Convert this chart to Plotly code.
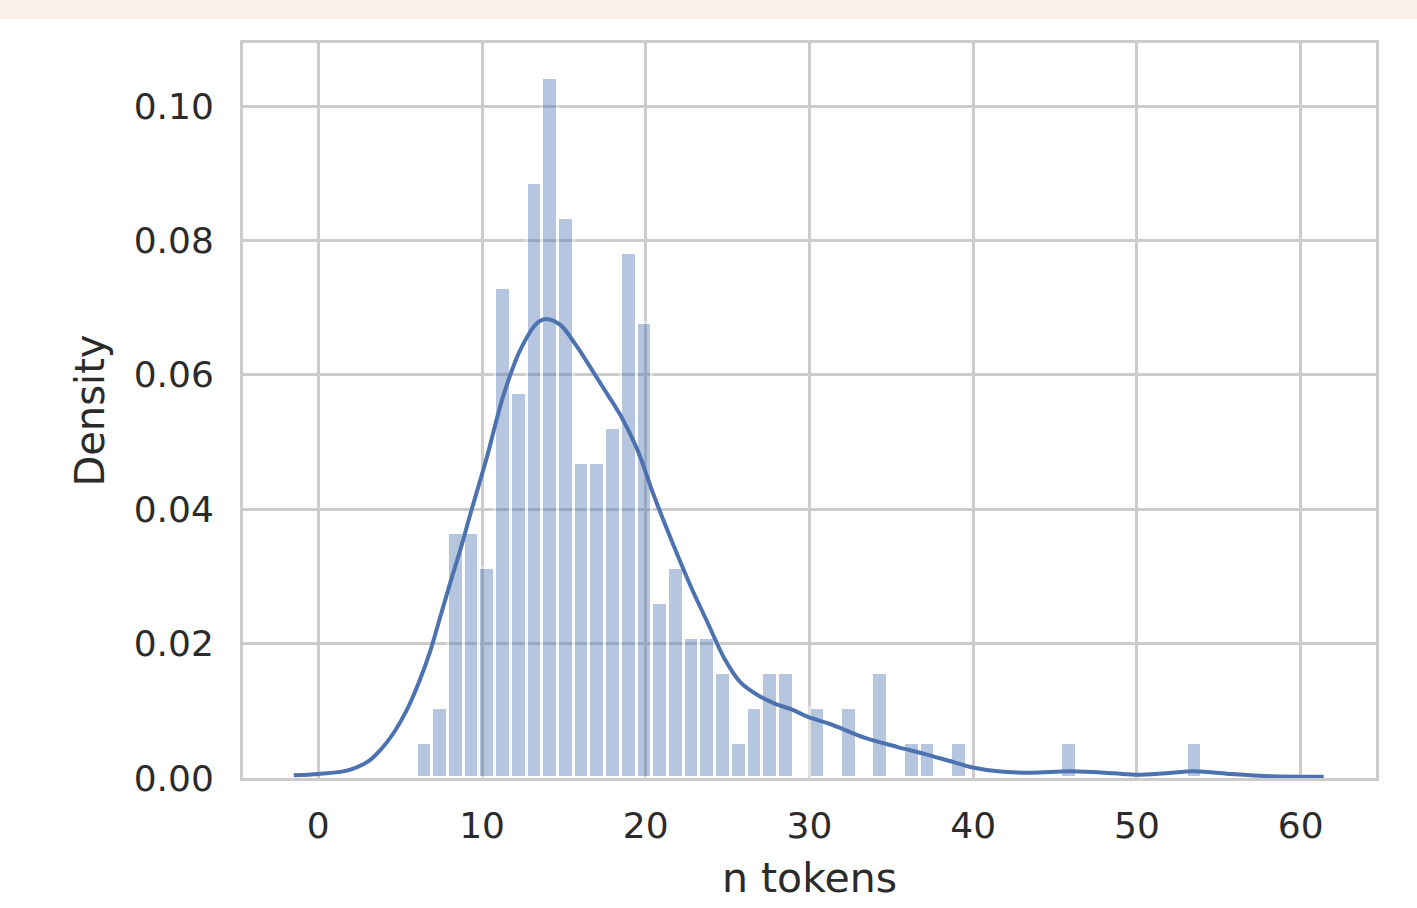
import math
import plotly.graph_objects as go

# ---- data ----
tokens = [6, 7, 8, 9, 10, 11, 12, 13, 14, 15, 16, 17, 18, 19, 20, 21, 22, 23, 24,
          25, 26, 27, 28, 29, 30, 32, 34, 36, 37, 39, 46, 54]
density = [0.0052, 0.0104, 0.0365, 0.0365, 0.0313, 0.0729, 0.0573, 0.0885, 0.1042,
           0.0833, 0.0469, 0.0469, 0.0521, 0.0781, 0.0677, 0.0260, 0.0313, 0.0208,
           0.0208, 0.0156, 0.0052, 0.0104, 0.0156, 0.0156, 0.0104, 0.0104, 0.0156,
           0.0052, 0.0052, 0.0052, 0.0052, 0.0052]

kde_x = [-1.5, 0.0, 1.75, 3.0, 3.8, 4.6, 5.4, 6.2, 6.85, 7.45, 8.05, 8.7, 9.3,
         10.3, 11.3, 12.35, 13.4, 14.0, 14.8, 15.8, 16.8, 17.45, 18.5, 19.5, 20.5,
         21.7, 22.75, 23.8, 24.8, 25.8, 26.8, 27.85, 28.9, 29.9, 31.3, 33.35, 35.4,
         37.0, 38.45, 39.9, 41.5, 43.5, 46.0, 48.6, 50.0, 51.7, 53.5, 55.8, 57.8, 61.4]
kde_y = [0.0004, 0.0006, 0.0011, 0.0024, 0.0042, 0.0067, 0.0101, 0.0146, 0.0190,
         0.0240, 0.0290, 0.0342, 0.0394, 0.0478, 0.0569, 0.0638, 0.0678, 0.0683,
         0.0674, 0.0642, 0.0604, 0.0579, 0.0538, 0.0488, 0.0420, 0.0346, 0.0285,
         0.0230, 0.0178, 0.0142, 0.0124, 0.0111, 0.0102, 0.0091, 0.0080, 0.0060,
         0.0046, 0.0036, 0.0026, 0.0016, 0.0010, 0.0008, 0.0010, 0.0007, 0.0005,
         0.0007, 0.0010, 0.0006, 0.0003, 0.0002]

x_ticks = [0, 10, 20, 30, 40, 50, 60]
y_ticks = [0.00, 0.02, 0.04, 0.06, 0.08, 0.10]
x_title = "n tokens"
y_title = "Density"

# histogram binning (50 bins between data min and max)
hist_min, hist_max, n_bins = min(tokens), max(tokens), 50
bin_w = (hist_max - hist_min) / n_bins
bar_x = []
for t in tokens:
    i = min(int(math.floor((t - hist_min) / bin_w + 1e-9)), n_bins - 1)
    bar_x.append(hist_min + (i + 0.5) * bin_w)

BLUE = "#4c72b0"
GRID = "#cccccc"
TXT = "#2b2b2b"
FONT = "DejaVu Sans"

fig = go.Figure()
fig.add_trace(go.Bar(
    x=bar_x, y=density, width=bin_w,
    marker=dict(color=BLUE, opacity=0.4, line=dict(color="white", width=3)),
    hoverinfo="skip", showlegend=False,
))
fig.add_trace(go.Scatter(
    x=kde_x, y=kde_y, mode="lines",
    line=dict(color=BLUE, width=4, shape="spline", smoothing=0.9),
    showlegend=False,
))

fig.add_shape(type="rect", xref="paper", yref="paper",
              x0=-1, x1=2, y0=1.0 + (43 - 19) / 735, y1=1.2,
              fillcolor="#f8f1eb", line=dict(width=0), layer="below")

fig.update_layout(
    width=1417, height=908,
    margin=dict(l=243, r=41, t=43, b=130),
    paper_bgcolor="white", plot_bgcolor="white",
    font=dict(family=FONT, color=TXT, size=36),
    bargap=0,
    xaxis=dict(
        range=[-4.6, 64.6], tickvals=x_ticks, ticktext=[str(v) for v in x_ticks],
        showgrid=True, gridcolor=GRID, gridwidth=2.5, zeroline=False,
        showline=True, linecolor=GRID, linewidth=3, mirror=True,
        ticks="", ticklen=0, ticklabelstandoff=14,
        tickfont=dict(size=36, family=FONT, color=TXT),
        title=dict(text=x_title, font=dict(size=41, family=FONT, color=TXT), standoff=19),
    ),
    yaxis=dict(
        range=[0, 0.1094], tickvals=y_ticks, ticktext=[f"{v:.2f}" for v in y_ticks],
        showgrid=True, gridcolor=GRID, gridwidth=2.5, zeroline=False,
        showline=True, linecolor=GRID, linewidth=3, mirror=True,
        ticks="", ticklen=0, ticklabelstandoff=19,
        tickfont=dict(size=36, family=FONT, color=TXT),
        title=dict(text=y_title, font=dict(size=40, family=FONT, color=TXT), standoff=17),
    ),
)

fig.write_html("out.html", config={"displayModeBar": False},
               post_script="document.body.style.margin='0px';")
